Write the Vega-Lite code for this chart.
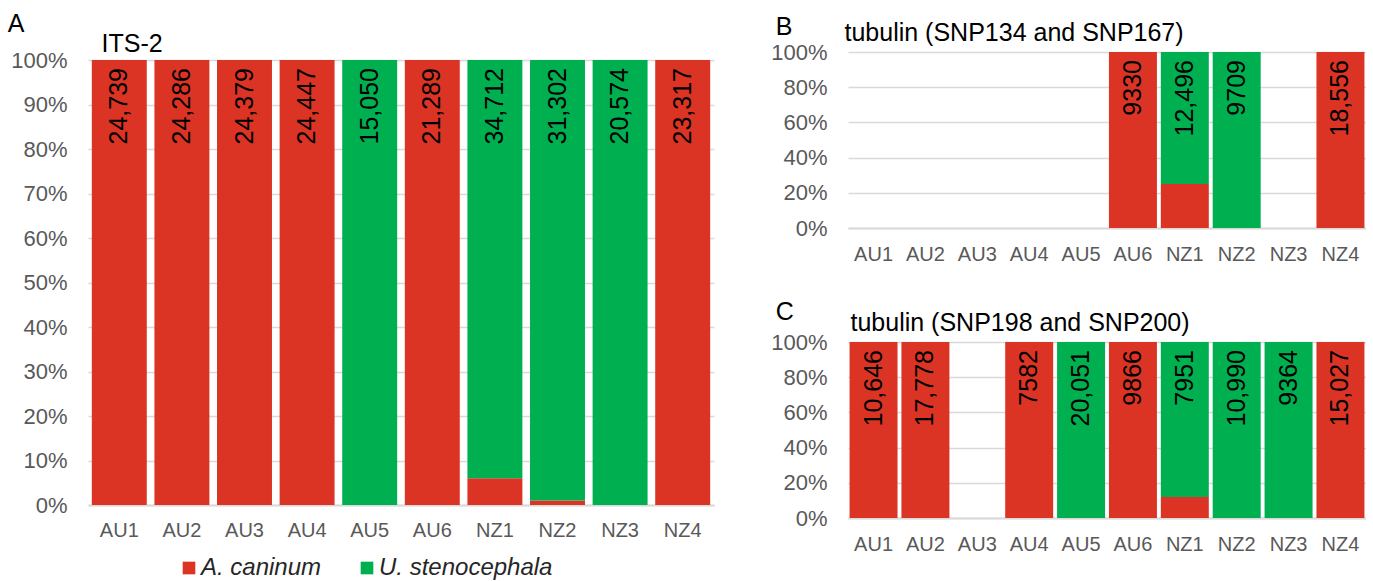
{
  "$schema": "https://vega.github.io/schema/vega-lite/v6.json",
  "background": "white",
  "padding": {"left": 7, "top": 12, "right": 0, "bottom": 0},
  "datasets": {
    "bars": [
      {"panel": "A", "sample": "AU1", "species": "A. caninum", "share": 1},
      {"panel": "A", "sample": "AU2", "species": "A. caninum", "share": 1},
      {"panel": "A", "sample": "AU3", "species": "A. caninum", "share": 1},
      {"panel": "A", "sample": "AU4", "species": "A. caninum", "share": 1},
      {"panel": "A", "sample": "AU5", "species": "U. stenocephala", "share": 1},
      {"panel": "A", "sample": "AU6", "species": "A. caninum", "share": 1},
      {"panel": "A", "sample": "NZ1", "species": "A. caninum", "share": 0.06},
      {"panel": "A", "sample": "NZ1", "species": "U. stenocephala", "share": 0.94},
      {"panel": "A", "sample": "NZ2", "species": "A. caninum", "share": 0.01},
      {"panel": "A", "sample": "NZ2", "species": "U. stenocephala", "share": 0.99},
      {"panel": "A", "sample": "NZ3", "species": "U. stenocephala", "share": 1},
      {"panel": "A", "sample": "NZ4", "species": "A. caninum", "share": 1},
      {"panel": "B", "sample": "AU6", "species": "A. caninum", "share": 1},
      {"panel": "B", "sample": "NZ1", "species": "A. caninum", "share": 0.25},
      {"panel": "B", "sample": "NZ1", "species": "U. stenocephala", "share": 0.75},
      {"panel": "B", "sample": "NZ2", "species": "U. stenocephala", "share": 1},
      {"panel": "B", "sample": "NZ4", "species": "A. caninum", "share": 1},
      {"panel": "C", "sample": "AU1", "species": "A. caninum", "share": 1},
      {"panel": "C", "sample": "AU2", "species": "A. caninum", "share": 1},
      {"panel": "C", "sample": "AU4", "species": "A. caninum", "share": 1},
      {"panel": "C", "sample": "AU5", "species": "U. stenocephala", "share": 1},
      {"panel": "C", "sample": "AU6", "species": "A. caninum", "share": 1},
      {"panel": "C", "sample": "NZ1", "species": "A. caninum", "share": 0.12},
      {"panel": "C", "sample": "NZ1", "species": "U. stenocephala", "share": 0.88},
      {"panel": "C", "sample": "NZ2", "species": "U. stenocephala", "share": 1},
      {"panel": "C", "sample": "NZ3", "species": "U. stenocephala", "share": 1},
      {"panel": "C", "sample": "NZ4", "species": "A. caninum", "share": 1}
    ],
    "labels": [
      {"panel": "A", "sample": "AU1", "count": "24,739"},
      {"panel": "A", "sample": "AU2", "count": "24,286"},
      {"panel": "A", "sample": "AU3", "count": "24,379"},
      {"panel": "A", "sample": "AU4", "count": "24,447"},
      {"panel": "A", "sample": "AU5", "count": "15,050"},
      {"panel": "A", "sample": "AU6", "count": "21,289"},
      {"panel": "A", "sample": "NZ1", "count": "34,712"},
      {"panel": "A", "sample": "NZ2", "count": "31,302"},
      {"panel": "A", "sample": "NZ3", "count": "20,574"},
      {"panel": "A", "sample": "NZ4", "count": "23,317"},
      {"panel": "B", "sample": "AU6", "count": "9330"},
      {"panel": "B", "sample": "NZ1", "count": "12,496"},
      {"panel": "B", "sample": "NZ2", "count": "9709"},
      {"panel": "B", "sample": "NZ4", "count": "18,556"},
      {"panel": "C", "sample": "AU1", "count": "10,646"},
      {"panel": "C", "sample": "AU2", "count": "17,778"},
      {"panel": "C", "sample": "AU4", "count": "7582"},
      {"panel": "C", "sample": "AU5", "count": "20,051"},
      {"panel": "C", "sample": "AU6", "count": "9866"},
      {"panel": "C", "sample": "NZ1", "count": "7951"},
      {"panel": "C", "sample": "NZ2", "count": "10,990"},
      {"panel": "C", "sample": "NZ3", "count": "9364"},
      {"panel": "C", "sample": "NZ4", "count": "15,027"}
    ]
  },
  "config": {
    "font": "Liberation Sans",
    "view": {"stroke": null},
    "axis": {
      "labelFont": "Liberation Sans",
      "labelColor": "#595959",
      "titleFont": "Liberation Sans",
      "titleColor": "#000000",
      "titleFontWeight": "normal",
      "ticks": false
    },
    "axisY": {
      "domain": false,
      "grid": true,
      "gridColor": "#D9D9D9",
      "gridWidth": 1.5,
      "labelFontSize": 22,
      "labelPadding": 21,
      "labelOverlap": false,
      "labelSeparation": 0,
      "titleAngle": 0,
      "titleAlign": "left",
      "titleBaseline": "alphabetic",
      "titleFontSize": 25
    },
    "axisX": {
      "domain": true,
      "domainColor": "#D9D9D9",
      "domainWidth": 2,
      "grid": false,
      "labelFontSize": 20,
      "labelPadding": 15,
      "labelAngle": 0,
      "labelOverlap": false
    },
    "title": {
      "font": "Liberation Sans",
      "fontSize": 25,
      "fontWeight": "normal",
      "color": "#000000",
      "anchor": "start",
      "frame": "bounds",
      "baseline": "alphabetic"
    },
    "text": {"font": "Liberation Sans"}
  },
  "resolve": {"scale": {"color": "independent"}},
  "spacing": 56,
  "hconcat": [
    {
      "width": 626,
      "height": 453,
      "title": {"text": "A", "offset": -6, "dx": -3},
      "encoding": {
        "x": {
          "field": "sample",
          "type": "nominal",
          "title": null,
          "sort": null,
          "scale": {"domain": ["AU1", "AU2", "AU3", "AU4", "AU5", "AU6", "NZ1", "NZ2", "NZ3", "NZ4"], "paddingInner": 0.122, "paddingOuter": 0.061}
        }
      },
      "layer": [
        {
          "data": {"name": "bars"},
          "transform": [{"filter": "datum.panel === 'A'"}],
          "mark": {"type": "bar"},
          "encoding": {
            "y": {
              "field": "share",
              "type": "quantitative",
              "stack": "zero",
              "scale": {"domain": [0, 1.018], "nice": false},
              "axis": {"title": "ITS-2", "titleX": 13, "titleY": -1, "values": [0, 0.1, 0.2, 0.3, 0.4, 0.5, 0.6, 0.7, 0.8, 0.9, 1], "format": ".0%"}
            },
            "order": {"field": "species", "sort": "ascending"},
            "color": {
              "field": "species",
              "type": "nominal",
              "scale": {"domain": ["A. caninum", "U. stenocephala"], "range": ["#DB3424", "#00B050"]},
              "legend": {
                "title": null,
                "orient": "none",
                "legendX": 89,
                "legendY": 504,
                "direction": "horizontal",
                "symbolType": "square",
                "symbolSize": 160,
                "symbolStrokeWidth": 0,
                "labelFontSize": 24,
                "labelFontStyle": "italic",
                "labelFont": "Liberation Sans",
                "labelColor": "#262626",
                "labelOffset": 0,
                "labelLimit": 400,
                "columnPadding": 33,
                "padding": 0
              }
            }
          }
        },
        {
          "data": {"name": "labels"},
          "transform": [{"filter": "datum.panel === 'A'"}],
          "mark": {"type": "text", "angle": 270, "align": "right", "baseline": "middle", "dx": -8, "fontSize": 25, "color": "#000000"},
          "encoding": {
            "y": {
              "datum": 1,
              "type": "quantitative",
              "axis": {"title": "ITS-2", "titleX": 13, "titleY": -1, "values": [0, 0.1, 0.2, 0.3, 0.4, 0.5, 0.6, 0.7, 0.8, 0.9, 1], "format": ".0%"}
            },
            "text": {"field": "count", "type": "nominal"}
          }
        }
      ]
    },
    {
      "vconcat": [
        {
          "width": 518,
          "height": 176,
          "title": {"text": "B", "offset": -20, "dx": 5},
          "encoding": {
            "x": {
              "field": "sample",
              "type": "nominal",
              "title": null,
              "sort": null,
              "scale": {"domain": ["AU1", "AU2", "AU3", "AU4", "AU5", "AU6", "NZ1", "NZ2", "NZ3", "NZ4"], "paddingInner": 0.075, "paddingOuter": 0.03},
              "axis": {"labelPadding": 16}
            }
          },
          "layer": [
            {
              "data": {"name": "bars"},
              "transform": [{"filter": "datum.panel === 'B'"}],
              "mark": {"type": "bar"},
              "encoding": {
                "y": {
                  "field": "share",
                  "type": "quantitative",
                  "stack": "zero",
                  "scale": {"domain": [0, 1], "nice": false},
                  "axis": {"title": "tubulin (SNP134 and SNP167)", "titleX": -4, "titleY": -12, "values": [0, 0.2, 0.4, 0.6, 0.8, 1], "format": ".0%"}
                },
                "order": {"field": "species", "sort": "ascending"},
                "color": {
                  "field": "species",
                  "type": "nominal",
                  "scale": {"domain": ["A. caninum", "U. stenocephala"], "range": ["#DB3424", "#00B050"]},
                  "legend": null
                }
              }
            },
            {
              "data": {"name": "labels"},
              "transform": [{"filter": "datum.panel === 'B'"}],
              "mark": {"type": "text", "angle": 270, "align": "right", "baseline": "middle", "dx": -8, "fontSize": 25, "color": "#000000"},
              "encoding": {
                "y": {
                  "datum": 1,
                  "type": "quantitative",
                  "axis": {"title": "tubulin (SNP134 and SNP167)", "titleX": -4, "titleY": -12, "values": [0, 0.2, 0.4, 0.6, 0.8, 1], "format": ".0%"}
                },
                "text": {"field": "count", "type": "nominal"}
              }
            }
          ]
        },
        {
          "width": 518,
          "height": 176,
          "title": {"text": "C", "offset": -15, "dx": 5},
          "encoding": {
            "x": {
              "field": "sample",
              "type": "nominal",
              "title": null,
              "sort": null,
              "scale": {"domain": ["AU1", "AU2", "AU3", "AU4", "AU5", "AU6", "NZ1", "NZ2", "NZ3", "NZ4"], "paddingInner": 0.075, "paddingOuter": 0.03},
              "axis": {"labelPadding": 16}
            }
          },
          "layer": [
            {
              "data": {"name": "bars"},
              "transform": [{"filter": "datum.panel === 'C'"}],
              "mark": {"type": "bar"},
              "encoding": {
                "y": {
                  "field": "share",
                  "type": "quantitative",
                  "stack": "zero",
                  "scale": {"domain": [0, 1], "nice": false},
                  "axis": {"title": "tubulin (SNP198 and SNP200)", "titleX": 2, "titleY": -12, "values": [0, 0.2, 0.4, 0.6, 0.8, 1], "format": ".0%"}
                },
                "order": {"field": "species", "sort": "ascending"},
                "color": {
                  "field": "species",
                  "type": "nominal",
                  "scale": {"domain": ["A. caninum", "U. stenocephala"], "range": ["#DB3424", "#00B050"]},
                  "legend": null
                }
              }
            },
            {
              "data": {"name": "labels"},
              "transform": [{"filter": "datum.panel === 'C'"}],
              "mark": {"type": "text", "angle": 270, "align": "right", "baseline": "middle", "dx": -8, "fontSize": 25, "color": "#000000"},
              "encoding": {
                "y": {
                  "datum": 1,
                  "type": "quantitative",
                  "axis": {"title": "tubulin (SNP198 and SNP200)", "titleX": 2, "titleY": -12, "values": [0, 0.2, 0.4, 0.6, 0.8, 1], "format": ".0%"}
                },
                "text": {"field": "count", "type": "nominal"}
              }
            }
          ]
        }
      ],
      "spacing": 114,
      "bounds": "flush"
    }
  ]
}
